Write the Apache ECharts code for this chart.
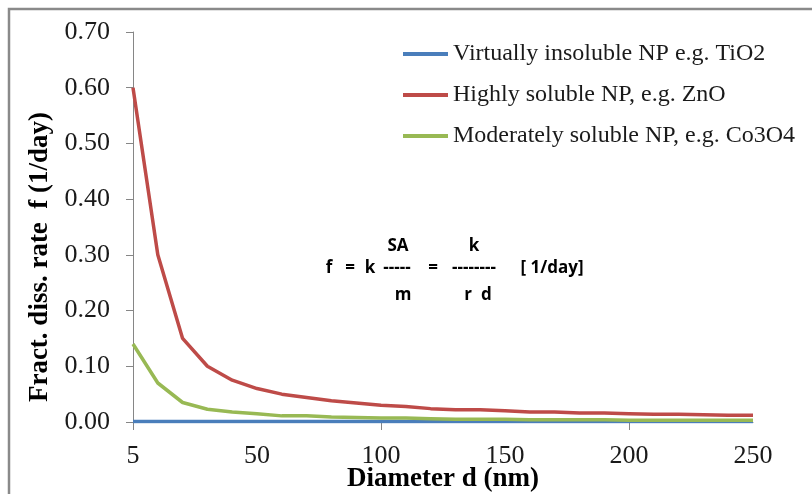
<!DOCTYPE html>
<html>
<head>
<meta charset="utf-8">
<title>Fractional dissolution rate vs diameter</title>
<script src="https://cdn.jsdelivr.net/npm/echarts@6/dist/echarts.min.js"></script>
<style>
  html, body { margin: 0; padding: 0; background: #fff; }
  #chart { width: 812px; height: 494px; }
</style>
</head>
<body>
<div id="chart"></div>
<script>
// diameters (nm), plotted as categories like the original Excel line chart
const diameters = [5, 10, 20, 30, 40, 50, 60, 70, 80, 90, 100, 110, 120, 130, 140, 150,
  160, 170, 180, 190, 200, 210, 220, 230, 240, 250]

const insoluble = [0.001, 0.001, 0.001, 0.001, 0.001, 0.001, 0.001, 0.001, 0.001, 0.001,
  0.001, 0.001, 0.001, 0.001, 0.001, 0.001, 0.001, 0.001, 0.001, 0.001,
  0.001, 0.001, 0.001, 0.001, 0.001, 0.001]

const highlySoluble = [0.60, 0.30, 0.15, 0.10, 0.075, 0.06, 0.05, 0.044, 0.038, 0.034,
  0.030, 0.028, 0.024, 0.022, 0.022, 0.020, 0.018, 0.018, 0.016, 0.016,
  0.015, 0.014, 0.014, 0.013, 0.012, 0.012]

const moderatelySoluble = [0.14, 0.07, 0.035, 0.023, 0.018, 0.015, 0.011, 0.011, 0.009, 0.008,
  0.007, 0.007, 0.006, 0.005, 0.005, 0.005, 0.004, 0.004, 0.004, 0.004,
  0.003, 0.003, 0.003, 0.003, 0.003, 0.003]

const seriesNames = [
  'Virtually insoluble NP e.g. TiO2',
  'Highly soluble NP, e.g. ZnO',
  'Moderately soluble NP, e.g. Co3O4'
]

const axisGrey = '#868686'
const serif = '"Liberation Serif", "Times New Roman", serif'
const formulaFont = 'bold 17px "Open Sans", Lato, sans-serif'

const chart = echarts.init(document.getElementById('chart'))

// formula pieces: [text, x, y]  (centred)
const formula = [
  ['SA', 398, 246],
  ['k', 474, 246],
  ['f', 329, 268],
  ['=', 350, 268],
  ['k', 370, 268],
  ['-----', 397, 268],
  ['=', 433, 268],
  ['--------', 474, 268],
  ['[ 1/day]', 552, 268],
  ['m', 403, 295],
  ['r  d', 478, 295]
]

const option = {
  animation: false,
  color: ['#4a7ebb', '#be4b48', '#98b954'],
  grid: { left: 133, right: 59, top: 32, bottom: 72, outerBoundsMode: 'none' },
  legend: {
    orient: 'vertical',
    left: 398,
    top: 37,
    itemWidth: 45,
    itemHeight: 4,
    itemGap: 17,
    icon: 'rect',
    data: seriesNames,
    textStyle: { fontFamily: serif, fontSize: 24, color: '#1a1a1a', lineHeight: 24 }
  },
  xAxis: {
    type: 'category',
    data: diameters,
    boundaryGap: false,
    name: 'Diameter d (nm)',
    nameLocation: 'middle',
    nameGap: 44,
    nameMoveOverlap: false,
    nameTextStyle: { fontFamily: serif, fontSize: 27, fontWeight: 'bold', color: '#000' },
    axisLine: { lineStyle: { color: axisGrey, width: 1 } },
    axisTick: {
      show: true,
      length: 8,
      interval: function (idx) { return idx % 10 === 0 },
      lineStyle: { color: axisGrey }
    },
    axisLabel: {
      interval: function (idx) { return idx % 5 === 0 },
      margin: 21,
      fontFamily: serif,
      fontSize: 26,
      color: '#1a1a1a'
    },
    splitLine: { show: false }
  },
  yAxis: {
    type: 'value',
    min: 0,
    max: 0.7,
    interval: 0.1,
    axisLine: { show: true, lineStyle: { color: axisGrey, width: 1 } },
    axisTick: { show: true, length: 7, lineStyle: { color: axisGrey } },
    axisLabel: {
      margin: 23,
      fontFamily: serif,
      fontSize: 26,
      color: '#1a1a1a',
      formatter: function (v) { return v.toFixed(2) }
    },
    splitLine: { show: false }
  },
  series: [
    { name: seriesNames[0], type: 'line', data: insoluble },
    { name: seriesNames[1], type: 'line', data: highlySoluble },
    { name: seriesNames[2], type: 'line', data: moderatelySoluble }
  ].map(function (s) {
    s.symbol = 'none'
    s.lineStyle = { width: 3.5 }
    return s
  }),
  graphic: [
    {
      type: 'rect',
      shape: { x: 9, y: 9, width: 900, height: 600 },
      style: { fill: 'none', stroke: '#8a8a8a', lineWidth: 2.5 },
      silent: true
    },
    {
      type: 'text',
      x: 40,
      y: 257,
      rotation: Math.PI / 2,
      style: {
        text: 'Fract. diss. rate  f (1/day)',
        font: 'bold 27px ' + serif,
        fill: '#000',
        align: 'center',
        verticalAlign: 'middle'
      }
    }
  ].concat(formula.map(function (p) {
    return {
      type: 'text',
      x: p[1],
      y: p[2],
      style: { text: p[0], font: formulaFont, fill: '#000', align: 'center', verticalAlign: 'middle' }
    }
  }))
}

chart.setOption(option)

window.addEventListener('resize', () => {
  chart && chart.resize()
})
</script>
</body>
</html>
